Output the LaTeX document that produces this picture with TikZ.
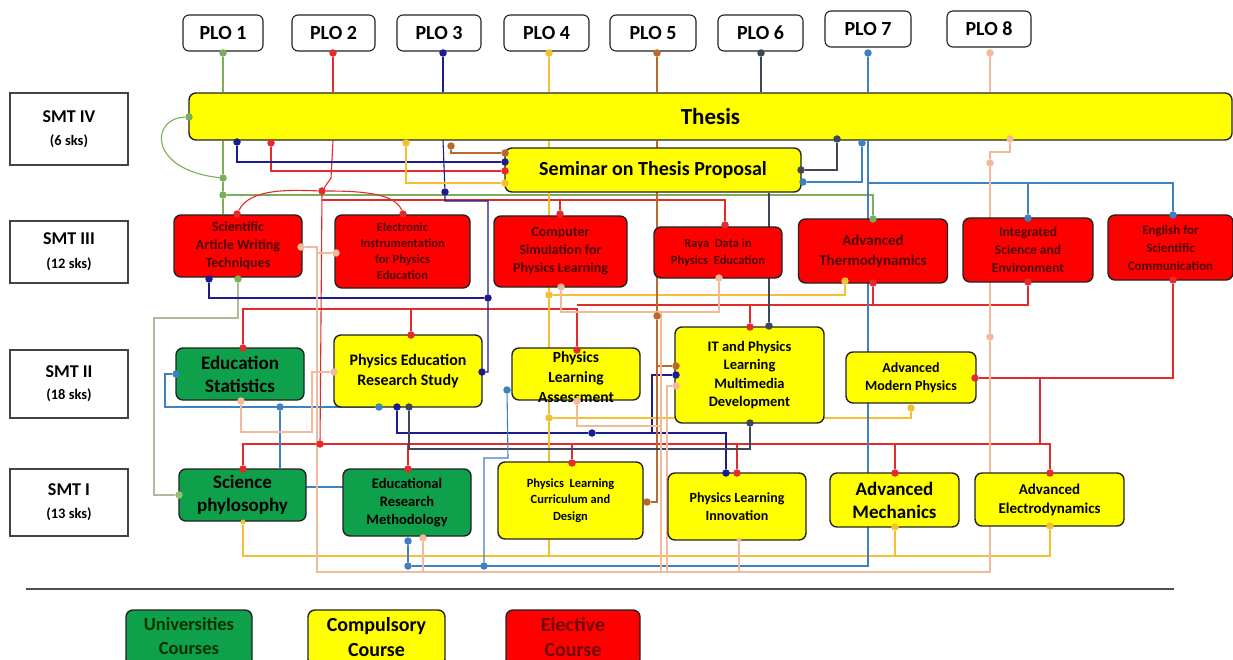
\documentclass[tikz,border=0pt]{standalone}
\usepackage{fontspec}
\setmainfont{Carlito}
\usetikzlibrary{calc}
\pgfdeclarelayer{bg}\pgfdeclarelayer{fg}\pgfsetlayers{bg,main,fg}
\definecolor{cG}{HTML}{7AAE58}
\definecolor{cGl}{HTML}{B2B89A}
\definecolor{cR}{HTML}{E32B2B}
\definecolor{cN}{HTML}{1C1C8E}
\definecolor{cY}{HTML}{F4C030}
\definecolor{cB}{HTML}{B8692E}
\definecolor{cD}{HTML}{3E4756}
\definecolor{cS}{HTML}{3F80C0}
\definecolor{cP}{HTML}{F2B99A}
\definecolor{fY}{HTML}{FFFF00}
\definecolor{fR}{HTML}{FF0000}
\definecolor{fG}{HTML}{0FA04B}
\definecolor{tR}{HTML}{4A0808}
\definecolor{bl}{HTML}{222222}
\newcommand{\fs}[2]{\fontsize{#1}{#2}\selectfont}
\begin{document}
\begin{tikzpicture}[x=1pt,y=-1pt,
  box/.style={draw=bl, line width=1.4pt, rounded corners=7pt, align=center, inner sep=0pt},
  yb/.style={box, fill=fY},
  rb/.style={box, fill=fR, text=tR},
  gb/.style={box, fill=fG, text=black},
  f/.style 2 args={font=\bfseries\fs{#1}{#2}},
  plo/.style={draw=bl, line width=1.1pt, rounded corners=6pt, fill=white, minimum height=36, inner sep=0pt, f={20}{24}},
  smt/.style={draw=bl!85, line width=1.3pt, fill=white, minimum width=118, align=center, inner sep=0pt},
  ln/.style={line width=1.1pt},
  dt/.style={circle, fill=#1, inner sep=0pt, minimum size=7.5pt},
  sdt/.style={circle, fill=#1, inner sep=0pt, minimum size=5pt},
]
\useasboundingbox (0,0) rectangle (1233,660);
\begin{pgfonlayer}{bg}
\fill[white] (0,0) rectangle (1233,660);
\end{pgfonlayer}

% PLO boxes
\node[plo, minimum width=80] (p1) at (223,33) {PLO 1};
\node[plo, minimum width=83] (p2) at (333.5,33) {PLO 2};
\node[plo, minimum width=84] (p3) at (439,33) {PLO 3};
\node[plo, minimum width=85] (p4) at (546.5,33) {PLO 4};
\node[plo, minimum width=86] (p5) at (653,33) {PLO 5};
\node[plo, minimum width=85] (p6) at (760.5,33) {PLO 6};
\node[plo, minimum width=86] (p7) at (868,29) {PLO 7};
\node[plo, minimum width=84] (p8) at (989,29) {PLO 8};

% semester boxes
\node[smt, minimum height=72, f={18}{23}] (s4) at (69,129) {SMT IV\\\fs{14.5}{23}(6 sks)};
\node[smt, minimum height=62, f={18}{24}] (s3) at (69,252) {SMT III\\\fs{14.5}{24}(12 sks)};
\node[smt, minimum height=68, f={18}{22}] (s2) at (69,384) {SMT II\\\fs{14.5}{22}(18 sks)};
\node[smt, minimum height=67, f={18}{23}] (s1) at (69,502.5) {SMT I\\\fs{14.5}{23}(13 sks)};

% SMT IV
\node[yb, minimum width=1043, minimum height=47, f={23}{26}] (th) at (710.5,116.5) {Thesis};
\node[yb, minimum width=296, minimum height=44, f={20}{24}] (ses) at (653,170) {Seminar\ on\ Thesis\ Proposal};

% SMT III
\node[rb, minimum width=128, minimum height=62, f={14}{18}] (sawt) at (238,246) {Scientific\\Article Writing\\Techniques};
\node[rb, minimum width=135, minimum height=73, f={12.5}{16}] (eipe) at (402.5,251.5) {Electronic\\Instrumentation\\for Physics\\Education};
\node[rb, minimum width=133, minimum height=71, f={14}{18}] (csim) at (560.5,251.5) {Computer\\Simulation for\\Physics Learning};
\node[rb, minimum width=128, minimum height=51, f={12.5}{17}] (raya) at (718,252.5) {Raya\ \ Data in\\Physics\ \ Education};
\node[rb, minimum width=149, minimum height=64, f={15}{20}] (at) at (873,251) {Advanced\\Thermodynamics};
\node[rb, minimum width=130, minimum height=64, f={13.5}{18}] (ise) at (1028,250) {Integrated\\Science and\\Environment};
\node[rb, minimum width=125, minimum height=65, f={13}{18}] (eng) at (1170.5,247.5) {English for\\Scientific\\Communication};

% SMT II
\node[gb, minimum width=128, minimum height=52, f={19}{23}] (es) at (240,374) {Education\\Statistics};
\node[yb, minimum width=148, minimum height=72, f={16}{20}] (pers) at (408,371) {Physics Education\\Research Study};
\node[yb, minimum width=128, minimum height=52] (pla) at (576,374) {};
\node[align=center, f={15.5}{20}] (plat) at (576,377) {Physics\\Learning\\Assessment};
\node[yb, minimum width=149, minimum height=96, f={14.5}{18.5}] (itp) at (749.5,375) {IT and Physics\\Learning\\Multimedia\\Development};
\node[yb, minimum width=130, minimum height=51, f={14}{18}] (amp) at (911,377.5) {Advanced\\Modern Physics};

% SMT I
\node[gb, minimum width=127, minimum height=52, f={19}{23}] (sp) at (242.5,495) {Science\\phylosophy};
\node[gb, minimum width=128, minimum height=67, f={14.5}{18}] (erm) at (407,502.5) {Educational\\Research\\Methodology};
\node[yb, minimum width=145, minimum height=77, f={12.5}{16.5}] (pcd) at (570.5,500.5) {Physics\ \ Learning\\Curriculum and\\Design};
\node[yb, minimum width=138, minimum height=67, f={14}{18}] (pli) at (737,506.5) {Physics Learning\\Innovation};
\node[yb, minimum width=129, minimum height=54, f={19}{23}] (am) at (894.5,500) {Advanced\\Mechanics};
\node[yb, minimum width=149, minimum height=53, f={15}{19}] (ae) at (1049.5,499.5) {Advanced\\Electrodynamics};

% separator and legend
\draw[line width=2pt, draw=bl!80] (26,589) coordinate (sepl) -- (1174,589) coordinate (sepr);
\node[gb, minimum width=126, minimum height=56] (lu) at (189,638) {};
\node[f={18.5}{24}, align=center, text=black!80!green] (lut) at (189,636) {Universities\\Courses};
\node[yb, minimum width=137, minimum height=56] (lc) at (376.5,638) {};
\node[f={20}{25}, align=center] (lct) at (376.5,637) {Compulsory\\Course};
\node[rb, minimum width=134, minimum height=56] (le) at (573,638) {};
\node[f={20}{25}, align=center, text=tR!80!red] (let) at (573,637) {Elective\\Course};

% ---------- dots ----------
\begin{pgfonlayer}{fg}
\node[dt=cG] (d1) at (223,53) {};
\node[dt=cR] (d2) at (333,53) {};
\node[dt=cN] (d3) at (443,53) {};
\node[dt=cY] (d4) at (549,53) {};
\node[dt=cB] (d5) at (657,53) {};
\node[dt=cD] (d6) at (761,53) {};
\node[dt=cS] (d7) at (868,53) {};
\node[dt=cP] (d8) at (990,53) {};
\node[dt=cG] (tG) at (189,117) {};
\node[dt=cN] (tN) at (237,142) {};
\node[dt=cR] (tR) at (271,143) {};
\node[dt=cY] (tY) at (406,143) {};
\node[dt=cB] (tB) at (451,146) {};
\node[dt=cD] (tD) at (837,139) {};
\node[dt=cS] (tS) at (862,143) {};
\node[dt=cP] (tP) at (1010,139) {};
\node[dt=cB] (sB) at (505,153) {};
\node[dt=cN] (sN) at (505,162) {};
\node[dt=cR] (sR) at (505,171) {};
\node[dt=cY] (sY) at (505,183) {};
\node[dt=cD] (sD) at (801,170) {};
\node[dt=cS] (sS) at (803,182) {};
\node[dt=cG] (jG1) at (223,178) {};
\node[dt=cG] (jG2) at (223,195) {};
\node[dt=cR] (jR1) at (322,191) {};
\node[dt=cN] (jN1) at (445,192) {};
\node[dt=cP] (jP1) at (990,163) {};
\node[dt=cP] (jP2) at (990,337) {};
\node[dt=cY] (jY1) at (549,295) {};
\node[dt=cN] (jN2) at (488,298) {};
\node[dt=cB] (jB1) at (657,316) {};
\node[dt=cS] (jS1) at (280,407) {};
\node[dt=cY] (jY2) at (549,418) {};
\node[dt=cN] (jN3) at (592,433) {};
\node[dt=cR] (jR2) at (320,444) {};
\node[dt=cS] (jS2) at (408,566) {};
\node[dt=cS] (jS3) at (484,566) {};
\node[dt=cR] (sawtR) at (237,214) {};
\node[dt=cR] (eipeR) at (403,214) {};
\node[dt=cR] (csimR) at (560,214) {};
\node[dt=cR] (rayaR) at (725,225) {};
\node[dt=cG] (atG) at (873,219) {};
\node[dt=cS] (iseS) at (1028,218) {};
\node[dt=cS] (engS) at (1173,215) {};
\node[dt=cP] (sawtP) at (301,247) {};
\node[dt=cP] (eipeP) at (336,253) {};
\node[dt=cN] (sawtN) at (209,279) {};
\node[dt=cG] (sawtG) at (238,279) {};
\node[dt=cP] (csimP) at (561,287) {};
\node[dt=cP] (rayaP) at (719,278) {};
\node[dt=cY] (atY) at (845,281) {};
\node[dt=cR] (atR) at (873,283) {};
\node[dt=cR] (iseR) at (1028,282) {};
\node[dt=cR] (engR) at (1173,280) {};
\node[dt=cR] (esR) at (243,348) {};
\node[dt=cR] (persR) at (411,335) {};
\node[dt=cR] (plaR) at (577,350) {};
\node[dt=cR] (itpR) at (750,327) {};
\node[dt=cD] (itpD) at (769,326) {};
\node[dt=cS] (esS) at (176,374) {};
\node[dt=cP] (persP) at (334,372) {};
\node[dt=cN] (persN) at (482,372) {};
\node[dt=cS] (plaS) at (507,390) {};
\node[dt=cB] (itpB) at (676,366) {};
\node[dt=cN] (itpN) at (676,375) {};
\node[dt=cP] (itpP) at (676,386) {};
\node[dt=cR] (ampR) at (975,378) {};
\node[dt=cY] (ampY) at (911,408) {};
\node[dt=cP] (esP) at (241,401) {};
\node[dt=cS] (persS) at (379,407) {};
\node[dt=cN] (persN2) at (397,407) {};
\node[dt=cD] (persD) at (409,407) {};
\node[dt=cP] (plaP) at (577,401) {};
\node[dt=cD] (itpD2) at (750,423) {};
\node[dt=cR] (spR) at (243,469) {};
\node[dt=cR] (ermR) at (408,469) {};
\node[dt=cR] (pcdR) at (572,463) {};
\node[dt=cN] (pliN) at (726,473) {};
\node[dt=cR] (pliR) at (737,473) {};
\node[dt=cR] (amR) at (895,473) {};
\node[dt=cR] (aeR) at (1050,473) {};
\node[dt=cG!80!white] (spG) at (179,495) {};
\node[dt=cB] (pcdB) at (647,502) {};
\node[sdt=cY] (spY) at (243,522) {};
\node[dt=cY] (amY) at (895,527) {};
\node[dt=cY] (aeY) at (1050,526) {};
\node[dt=cS] (ermS) at (408,541) {};
\node[dt=cP] (ermP) at (423,538) {};
\node[sdt=cP] (pliP) at (739,540) {};
\end{pgfonlayer}

% ---------- connectors ----------
\begin{pgfonlayer}{bg}
% PLO 1 (green)
\draw[ln,cG] (d1) -- (d1 |- th.north);
\draw[ln,cG] (d1 |- th.south) -- (jG1) -- (jG2) -- (d1 |- sawt.north);
\draw[ln,cG] (tG) .. controls (150,118) and (148,170) .. (jG1);
\draw[ln,cG] (jG2) -| (atG);
\draw[ln,cGl] (sawtG) |- (154,318) |- (spG);
% PLO 2 (red)
\draw[ln,cR] (d2) -- (d2 |- th.north);
\draw[ln,cR] (d2 |- th.south) -- (331,178) -- (jR1);
\draw[ln,cR] (sawtR) .. controls (250,188) and (290,190) .. (jR1) .. controls (355,191) and (395,192) .. (eipeR);
\draw[ln,cR] (jR1) -- (jR2);
\draw[ln,cR] (322,200) -| (rayaR);
\draw[ln,cR] (csimR) -- (560,200);
\draw[ln,cR] (tR) |- (sR);
\draw[ln,cR] (esR) |- (577,309) -- (plaR);
\draw[ln,cR] (persR) -- (411,309);
\draw[ln,cR] (577,305) -| (itpR);
\draw[ln,cR] (750,305) -| (iseR);
\draw[ln,cR] (atR) -- (873,305);
\draw[ln,cR] (spR) |- (1050,444) -- (aeR);
\draw[ln,cR] (ermR) -- (408,444);
\draw[ln,cR] (pcdR) -- (572,444);
\draw[ln,cR] (pliR) -- (737,444);
\draw[ln,cR] (amR) -- (895,444);
\draw[ln,cR] (ampR) -| (engR);
\draw[ln,cR] (1040,378) -- (1040,444);
% PLO 3 (navy)
\draw[ln,cN] (d3) -- (d3 |- th.north);
\draw[ln,cN] (443,140) -- (jN1) -- (445,201) -| (jN2) -- (488,372) -- (persN);
\draw[ln,cN] (tN) |- (sN);
\draw[ln,cN] (sawtN) |- (jN2);
\draw[ln,cN] (persN2) |- (jN3) -- (726,433) -- (pliN);
\draw[ln,cN] (652,433) |- (itpN);
% PLO 4 (yellow)
\draw[ln,cY] (d4) -- (d4 |- th.north);
\draw[ln,cY] (d4 |- th.south) -- (jY1) -- (jY2) -- (549,556);
\draw[ln,cY] (tY) |- (sY);
\draw[ln,cY] (jY1) -| (atY);
\draw[ln,cY] (jY2) -| (ampY);
\draw[ln,cY] (spY) |- (1050,556) -- (aeY);
\draw[ln,cY] (amY) -- (895,556);
% PLO 5 (brown)
\draw[ln,cB] (d5) -- (d5 |- th.north);
\draw[ln,cB] (d5 |- th.south) -- (jB1) -- (657,502) -- (pcdB);
\draw[ln,cB] (tB) |- (sB);
\draw[ln,cB] (657,366) -- (itpB);
% PLO 6 (dark slate)
\draw[ln,cD] (d6) -- (d6 |- th.north);
\draw[ln,cD] (tD) |- (sD);
\draw[ln,cD] (itpD |- ses.south) -- (itpD);
\draw[ln,cD] (itpD2) |- (409,449) -- (persD);
% PLO 7 (steel blue)
\draw[ln,cS] (d7) -- (d7 |- th.north);
\draw[ln,cS] (d7 |- th.south) -- (868,566) -- (jS2) -- (ermS);
\draw[ln,cS] (tS) |- (sS);
\draw[ln,cS] (868,183) -| (engS);
\draw[ln,cS] (iseS) -- (1028,183);
\draw[ln,cS] (esS) -- (165,374) |- (persS);
\draw[ln,cS] (jS1) -- (jS1 |- sp.north);
\draw[ln,cS] (306,487) -- (343,487);
\draw[ln,cS] (jS3) |- (508,458) -- (plaS);
% PLO 8 (peach)
\draw[ln,cP] (d8) -- (d8 |- th.north);
\draw[ln,cP] (tP) |- (990,152) -- (jP1) -- (jP2) -- (990,572) -- (317,572) -- (317,247) -- (sawtP);
\draw[ln,cP] (317,253) -- (eipeP);
\draw[ln,cP] (ermP) -- (423,572);
\draw[ln,cP] (pliP) -- (739,572);
\draw[ln,cP] (esP) |- (312,432) |- (persP);
\draw[ln,cP] (csimP) |- (719,312) -- (rayaP);
\draw[ln,cP] (661,312) -- (661,572);
\draw[ln,cP] (plaP) |- (661,426);
\draw[ln,cP] (itpP) -- (667,386) -- (667,572);
\end{pgfonlayer}
\end{tikzpicture}
\end{document}
